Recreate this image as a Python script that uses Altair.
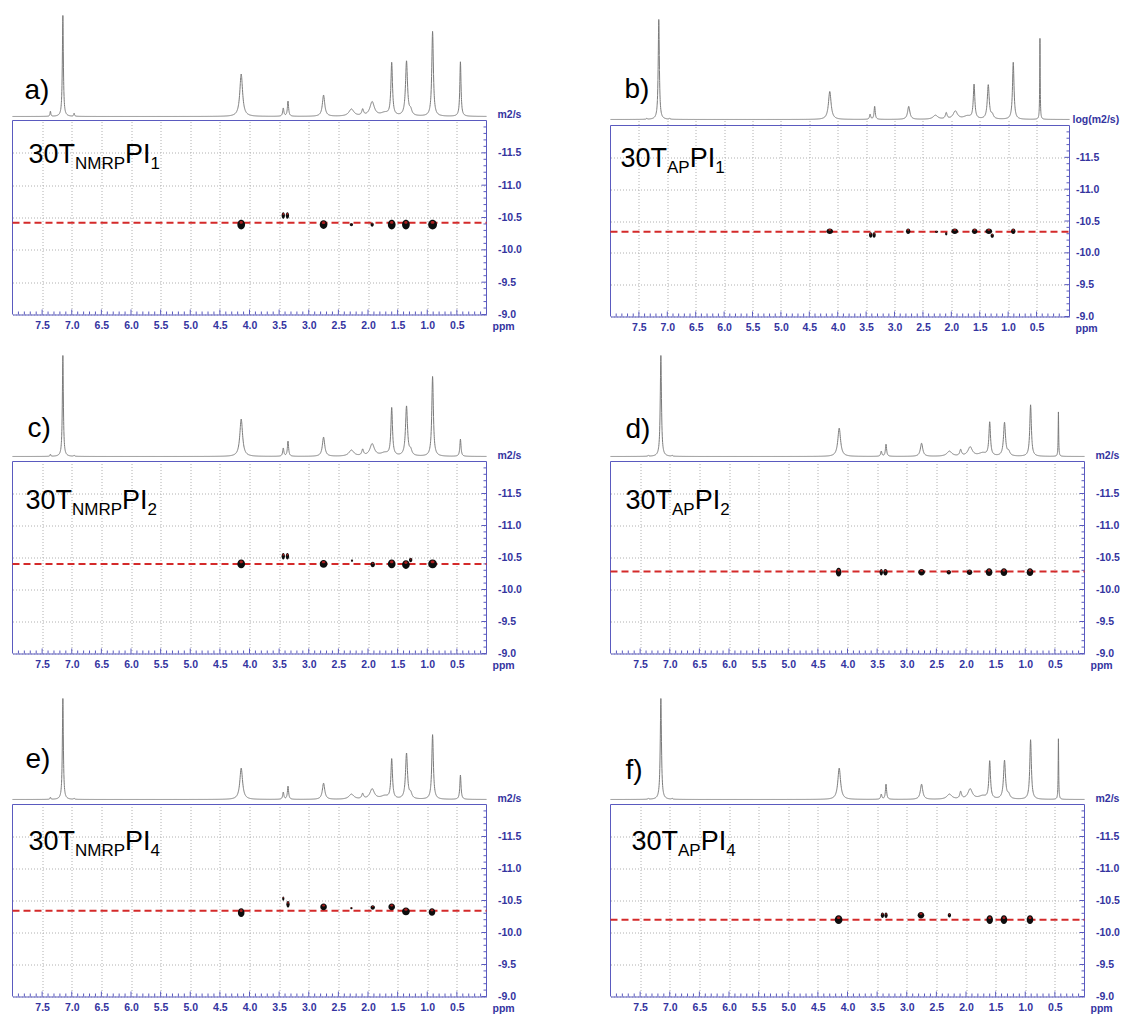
import numpy as np
import pandas as pd
import altair as alt

FONT = "Liberation Sans"
LABEL_BLUE = "#34349f"
FRAME_BLUE = "#5a5abf"
GRID_GREY = "#b0b0b0"
LINE_RED = "#d42a2a"
BLOB_RED = "#a81c1c"
SPEC_GREY = "#7a7a7a"

# 1H resonances (ppm) shared by all samples
shift_ppm = [7.36, 7.15, 6.96, 4.14, 3.43, 3.35, 2.75, 2.28, 2.09, 1.93, 1.72, 1.60, 1.35, 1.28, 0.91, 0.44]
# half widths at half height (ppm)
hw_nmrp = [0.008, 0.010, 0.008, 0.028, 0.012, 0.012, 0.024, 0.050, 0.018, 0.045, 0.080, 0.016, 0.020, 0.025, 0.016, 0.012]
hw_ap = [0.008, 0.012, 0.008, 0.028, 0.012, 0.012, 0.024, 0.050, 0.018, 0.045, 0.080, 0.016, 0.020, 0.025, 0.016, 0.005]

# relative peak heights (7.15 ppm line = 1)
height_a = [0.05, 1.00, 0.03, 0.42, 0.08, 0.15, 0.21, 0.07, 0.06, 0.14, 0.03, 0.52, 0.54, 0.05, 0.84, 0.54]
height_b = [0.01, 1.00, 0.01, 0.28, 0.05, 0.13, 0.13, 0.04, 0.06, 0.08, 0.03, 0.34, 0.34, 0.04, 0.57, 0.81]
height_c = [0.02, 1.00, 0.01, 0.37, 0.08, 0.15, 0.19, 0.06, 0.06, 0.12, 0.03, 0.47, 0.49, 0.05, 0.79, 0.17]
height_d = [0.01, 1.00, 0.01, 0.28, 0.05, 0.12, 0.13, 0.05, 0.06, 0.09, 0.03, 0.33, 0.33, 0.04, 0.51, 0.44]
height_e = [0.02, 1.00, 0.01, 0.31, 0.07, 0.13, 0.16, 0.05, 0.05, 0.10, 0.03, 0.39, 0.45, 0.05, 0.64, 0.24]
height_f = [0.01, 1.00, 0.01, 0.31, 0.05, 0.15, 0.15, 0.05, 0.07, 0.10, 0.03, 0.37, 0.38, 0.04, 0.59, 0.60]

# DOSY cross peaks: shift (ppm), log D, footprint width / height (px)
dosy_a_ppm = [4.14, 3.43, 3.36, 2.75, 2.28, 1.93, 1.60, 1.36, 0.91]
dosy_a_logd = [-10.39, -10.53, -10.53, -10.39, -10.39, -10.39, -10.39, -10.39, -10.39]
dosy_a_w = [7, 3, 3, 7, 3, 3, 7, 7, 8]
dosy_a_h = [9, 6, 6, 8, 3, 4, 9, 9, 9]

dosy_b_ppm = [4.14, 3.42, 3.36, 2.76, 2.26, 2.09, 1.94, 1.59, 1.34, 1.28, 0.91]
dosy_b_logd = [-10.34, -10.28, -10.28, -10.34, -10.33, -10.30, -10.34, -10.34, -10.34, -10.27, -10.34]
dosy_b_w = [6, 3, 3, 4, 3, 2, 6, 5, 6, 3, 4]
dosy_b_h = [5, 5, 5, 5, 2, 3, 5, 5, 5, 4, 5]

dosy_c_ppm = [4.14, 3.43, 3.36, 2.75, 2.27, 1.92, 1.60, 1.36, 1.28, 0.91]
dosy_c_logd = [-10.40, -10.52, -10.52, -10.40, -10.45, -10.39, -10.40, -10.39, -10.46, -10.40]
dosy_c_w = [7, 3, 3, 7, 2, 4, 7, 7, 3, 8]
dosy_c_h = [8, 6, 6, 7, 2, 5, 8, 8, 4, 8]

dosy_d_ppm = [4.15, 3.43, 3.36, 2.75, 2.29, 1.94, 1.61, 1.36, 0.92]
dosy_d_logd = [-10.27, -10.27, -10.27, -10.27, -10.27, -10.27, -10.27, -10.27, -10.27]
dosy_d_w = [5, 3, 4, 6, 4, 5, 6, 6, 6]
dosy_d_h = [8, 6, 6, 6, 4, 5, 7, 7, 7]

dosy_e_ppm = [4.14, 3.43, 3.35, 2.75, 2.28, 1.92, 1.60, 1.36, 0.92]
dosy_e_logd = [-10.31, -10.53, -10.44, -10.40, -10.38, -10.39, -10.40, -10.33, -10.32]
dosy_e_w = [6, 2, 3, 6, 2, 4, 6, 7, 6]
dosy_e_h = [8, 4, 6, 6, 2, 4, 6, 7, 7]

dosy_f_ppm = [4.15, 3.41, 3.35, 2.76, 2.28, 1.60, 1.36, 0.92]
dosy_f_logd = [-10.20, -10.27, -10.27, -10.27, -10.27, -10.20, -10.20, -10.20]
dosy_f_w = [7, 3, 3, 6, 3, 6, 6, 6]
dosy_f_h = [8, 5, 5, 6, 4, 8, 8, 8]

# mean log D of each sample (dashed line)
mean_logd = {"a": -10.42, "b": -10.33, "c": -10.40, "d": -10.28, "e": -10.34, "f": -10.20}

x_labels = [7.5, 7.0, 6.5, 6.0, 5.5, 5.0, 4.5, 4.0, 3.5, 3.0, 2.5, 2.0, 1.5, 1.0, 0.5]
y_labels = [-11.5, -11.0, -10.5, -10.0, -9.5, -9.0]

# panel geometry in px: vt = view top, pt / pb = plot frame top / bottom,
# base / peak = spectrum baseline and full-scale line, letter / lab = text anchors
panels = {
    "a": dict(heights=height_a, hw=hw_nmrp, ppm=dosy_a_ppm, logd=dosy_a_logd, w=dosy_a_w, h=dosy_a_h,
              W=474, vt=118, pt=118, pb=312, base=114, peak=13, xdom=[0.0, 8.0],
              letter=(12, 96), lab=(16, 160), unit="m2/s", unit_dx=11, lp=11, sub="NMRP", idx="1"),
    "b": dict(heights=height_b, hw=hw_ap, ppm=dosy_b_ppm, logd=dosy_b_logd, w=dosy_b_w, h=dosy_b_h,
              W=459, vt=118, pt=123, pb=314, base=117, peak=17, xdom=[-0.08, 8.0],
              letter=(14, 95), lab=(10, 164), unit="log(m2/s)", unit_dx=3, lp=6, sub="AP", idx="1"),
    "c": dict(heights=height_c, hw=hw_nmrp, ppm=dosy_c_ppm, logd=dosy_c_logd, w=dosy_c_w, h=dosy_c_h,
              W=474, vt=461, pt=461, pb=653, base=456, peak=355, xdom=[0.0, 8.0],
              letter=(15, 436), lab=(13, 508), unit="m2/s", unit_dx=11, lp=11, sub="NMRP", idx="2"),
    "d": dict(heights=height_d, hw=hw_ap, ppm=dosy_d_ppm, logd=dosy_d_logd, w=dosy_d_w, h=dosy_d_h,
              W=474, vt=461, pt=461, pb=653, base=456, peak=355, xdom=[0.0, 8.0],
              letter=(15, 437), lab=(15, 508), unit="m2/s", unit_dx=11, lp=11, sub="AP", idx="2"),
    "e": dict(heights=height_e, hw=hw_nmrp, ppm=dosy_e_ppm, logd=dosy_e_logd, w=dosy_e_w, h=dosy_e_h,
              W=474, vt=803, pt=803, pb=995, base=798, peak=697, xdom=[0.0, 8.0],
              letter=(13, 766), lab=(16, 848), unit="m2/s", unit_dx=11, lp=11, sub="NMRP", idx="4"),
    "f": dict(heights=height_f, hw=hw_ap, ppm=dosy_f_ppm, logd=dosy_f_logd, w=dosy_f_w, h=dosy_f_h,
              W=474, vt=803, pt=803, pb=995, base=798, peak=697, xdom=[0.0, 8.0],
              letter=(15, 777), lab=(21, 848), unit="m2/s", unit_dx=11, lp=11, sub="AP", idx="4"),
}

# Arial advance widths (em) for the sample labels
ADV = {"3": 0.556, "0": 0.556, "T": 0.611, "N": 0.722, "M": 0.833, "R": 0.722, "P": 0.667,
       "A": 0.667, "I": 0.278, "1": 0.556, "2": 0.556, "4": 0.556}


def text_width(s, size):
    return sum(ADV[c] for c in s) * size


def ellipse_path(rx, ry, cy=0.0):
    k = 0.5523
    t, b = cy - ry, cy + ry
    return (f"M0,{t:.3f} C{k*rx:.3f},{t:.3f} {rx:.3f},{cy-k*ry:.3f} {rx:.3f},{cy:.3f} "
            f"C{rx:.3f},{cy+k*ry:.3f} {k*rx:.3f},{b:.3f} 0,{b:.3f} "
            f"C{-k*rx:.3f},{b:.3f} {-rx:.3f},{cy+k*ry:.3f} {-rx:.3f},{cy:.3f} "
            f"C{-rx:.3f},{cy-k*ry:.3f} {-k*rx:.3f},{t:.3f} 0,{t:.3f} Z")


def spectrum_frame(heights, widths, xdom):
    lo, hi = min(xdom), max(xdom)
    grid = [np.linspace(lo, hi, 2400)]
    for p, w in zip(shift_ppm, widths):
        grid.append(p + w * np.linspace(-6, 6, 49))
    x = np.unique(np.concatenate(grid))
    x = x[(x >= lo) & (x <= hi)]
    y = np.zeros_like(x)
    for p, w, h in zip(shift_ppm, widths, heights):
        y += h / (1.0 + ((x - p) / w) ** 2)
    return pd.DataFrame({"ppm": x, "I": y})


def text_layer(s, x, y, size, weight="normal", color="black", align="left", baseline="alphabetic"):
    return alt.Chart(pd.DataFrame({"t": [s]})).mark_text(
        font=FONT, fontSize=size, fontWeight=weight, color=color, align=align, baseline=baseline
    ).encode(text="t:N", x=alt.value(x), y=alt.value(y))


def panel_view(key):
    P = panels[key]
    W = P["W"]
    vt = P["vt"]
    Hv = P["pb"] - vt          # view height
    off = P["pt"] - vt         # frame offset below the view top
    lo, hi = min(P["xdom"]), max(P["xdom"])
    label_expr = "replace(format(datum.value, '.1f'), '\u2212', '-')"

    X = alt.X(
        "ppm:Q",
        scale=alt.Scale(domain=P["xdom"], reverse=True, nice=False, zero=False),
        axis=alt.Axis(values=x_labels, labelExpr=label_expr, title=None, ticks=False, tickSize=0,
                      labelPadding=6, labelFont=FONT, labelFontWeight="bold", labelFontSize=10.5,
                      labelColor=LABEL_BLUE, domainColor=FRAME_BLUE, domainWidth=1,
                      grid=True, gridColor=GRID_GREY, gridDash=[1, 2], gridWidth=1,
                      labelFlush=False, labelOverlap=False),
    )
    ppu = (Hv - off) / 3.0     # px per log unit
    top_val = -12.0 - off / ppu
    Y = alt.Y(
        "logD:Q",
        scale=alt.Scale(domain=[top_val, -9.0], reverse=True, nice=False, zero=False),
        axis=alt.Axis(orient="right", values=y_labels, labelExpr=label_expr, title=None, ticks=False,
                      tickSize=0, domain=False, labelPadding=P["lp"], labelFont=FONT,
                      labelFontWeight="bold", labelFontSize=10.5, labelColor=LABEL_BLUE,
                      grid=True, gridColor=GRID_GREY, gridDash=[1, 2], gridWidth=1,
                      labelFlush=False, labelOverlap=False, labelAlign="left", labelBaseline="middle"),
    )

    # 1D spectrum stacked above the frame: intensity mapped onto the vertical scale
    yb = P["base"] - vt
    k = P["base"] - P["peak"]
    spec_df = spectrum_frame(P["heights"], P["hw"], P["xdom"])
    spectrum = alt.Chart(spec_df).transform_calculate(
        logD=f"{top_val} + ({yb} - {k} * datum.I) / {ppu}"
    ).mark_line(color=SPEC_GREY, strokeWidth=1).encode(x=X, y=Y)

    one = pd.DataFrame({"k": [0]})
    frame_top = alt.Chart(one).mark_rule(color=FRAME_BLUE, strokeWidth=1).encode(
        x=alt.value(0), x2=alt.value(W), y=alt.value(off))
    frame_left = alt.Chart(one).mark_rule(color=FRAME_BLUE, strokeWidth=1).encode(
        x=alt.value(0), y=alt.value(off), y2=alt.value(Hv))
    frame_right = alt.Chart(one).mark_rule(color=FRAME_BLUE, strokeWidth=1).encode(
        x=alt.value(W), y=alt.value(off), y2=alt.value(Hv))

    xt = np.round(np.arange(0.1, 8.0, 0.1), 1)
    xt = xt[(xt > lo) & (xt < hi)]
    x_major = pd.DataFrame({"ppm": [v for v in xt if abs(v * 2 - round(v * 2)) < 1e-6]})
    x_minor = pd.DataFrame({"ppm": [v for v in xt if abs(v * 2 - round(v * 2)) >= 1e-6]})
    yt = np.round(np.arange(-11.9, -9.0, 0.1), 1)
    y_major = pd.DataFrame({"logD": [v for v in yt if abs(v * 2 - round(v * 2)) < 1e-6]})
    y_minor = pd.DataFrame({"logD": [v for v in yt if abs(v * 2 - round(v * 2)) >= 1e-6]})

    tick_x_minor = alt.Chart(x_minor).mark_rule(color=FRAME_BLUE, strokeWidth=1).encode(
        x=X, y=alt.value(Hv), y2=alt.value(Hv - 3))
    tick_x_major = alt.Chart(x_major).mark_rule(color=FRAME_BLUE, strokeWidth=1).encode(
        x=X, y=alt.value(Hv), y2=alt.value(Hv - 5))
    tick_y_minor = alt.Chart(y_minor).mark_rule(color=FRAME_BLUE, strokeWidth=1).encode(
        y=Y, x=alt.value(W - 3), x2=alt.value(W))
    tick_y_major = alt.Chart(y_major).mark_rule(color=FRAME_BLUE, strokeWidth=1).encode(
        y=Y, x=alt.value(W - 5), x2=alt.value(W))

    ref = alt.Chart(pd.DataFrame({"logD": [mean_logd[key]]})).mark_rule(
        color=LINE_RED, strokeWidth=2, strokeDash=[7, 4]
    ).encode(y=Y, x=alt.value(0), x2=alt.value(W))

    blobs = pd.DataFrame({"ppm": P["ppm"], "logD": P["logd"], "bw": P["w"], "bh": P["h"]})
    blobs["size"] = (1.1 * blobs["bh"]) ** 2
    blobs["outer"] = [ellipse_path(w / h, 1.0) for w, h in zip(blobs["bw"], blobs["bh"])]
    blobs["inner"] = [ellipse_path(0.45 * w / h, 0.3, -0.45) for w, h in zip(blobs["bw"], blobs["bh"])]

    outer = alt.Chart(blobs).mark_point(filled=True, opacity=1, color="#0d0d0d").encode(
        x=X, y=Y, size=alt.Size("size:Q", scale=None), shape=alt.Shape("outer:N", scale=None))
    inner = alt.Chart(blobs).mark_point(filled=True, opacity=1, color=BLOB_RED).encode(
        x=X, y=Y, size=alt.Size("size:Q", scale=None), shape=alt.Shape("inner:N", scale=None))

    unit = text_layer(P["unit"], W + P["unit_dx"], off - 6, 10.5, "bold", LABEL_BLUE, baseline="middle")
    ppm_lbl = text_layer("ppm", W + 6, Hv + 12, 10.5, "bold", LABEL_BLUE, baseline="middle")

    lx, ly = P["letter"]
    letter = text_layer(key + ")", lx, ly - vt, 28)

    x0, y0 = P["lab"]
    segs = [("30T", 27, 0), (P["sub"], 17, 6), ("PI", 27, 0), (P["idx"], 17, 6)]
    name_layers = []
    cx = x0
    for s, size, dy in segs:
        name_layers.append(text_layer(s, cx, y0 - vt + dy, size))
        cx += text_width(s, size)

    return alt.layer(
        spectrum, frame_top, frame_left, frame_right,
        tick_x_minor, tick_x_major, tick_y_minor, tick_y_major,
        ref, outer, inner, unit, ppm_lbl, letter, *name_layers
    ).properties(width=W, height=Hv)


def row(k1, k2):
    return alt.hconcat(panel_view(k1), panel_view(k2), spacing=124, bounds="flush").resolve_scale(
        x="independent", y="independent")


lower = alt.vconcat(row("c", "d"), row("e", "f"), spacing=24).resolve_scale(
    x="independent", y="independent")

chart = alt.vconcat(row("a", "b"), lower, spacing=18).resolve_scale(
    x="independent", y="independent"
).properties(
    padding={"left": 10.5, "top": 12.5, "right": 0, "bottom": 0}
).configure_view(strokeWidth=0)

chart.save("out.html", embed_options={"renderer": "svg", "actions": False})
